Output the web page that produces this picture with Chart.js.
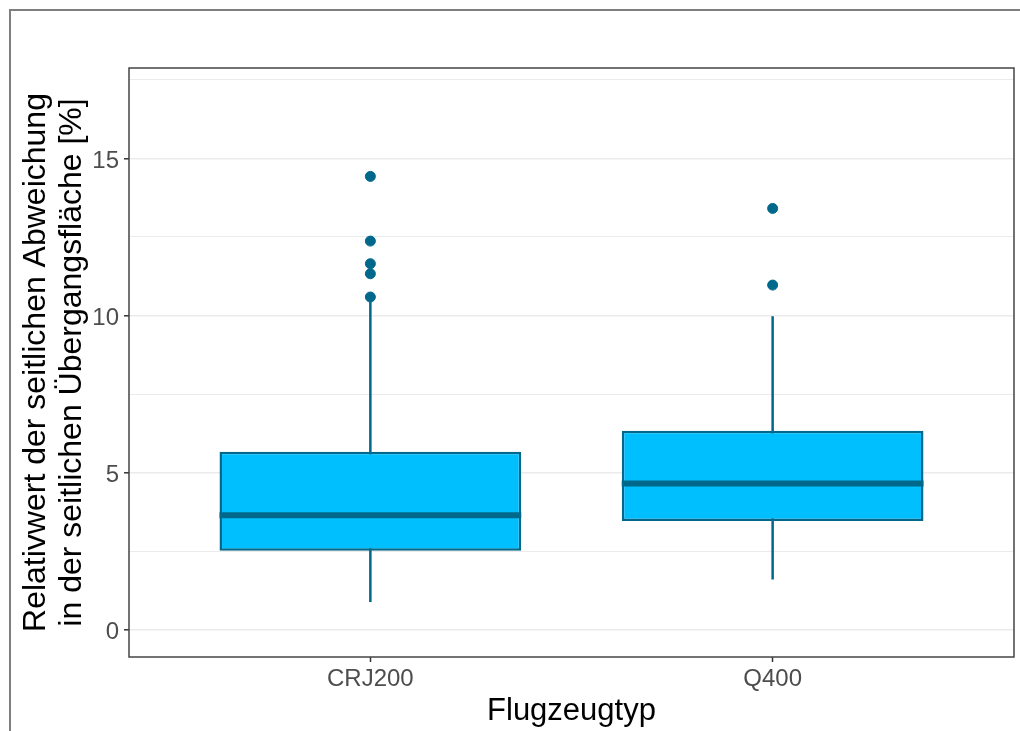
<!DOCTYPE html>
<html>
<head>
<meta charset="utf-8">
<script src="https://cdn.jsdelivr.net/npm/chart.js@4"></script>
<style>
  html, body { margin: 0; padding: 0; background: #fff; }
  #wrap { position: relative; width: 1020px; height: 731px; overflow: hidden; }
  #frame { position: absolute; left: 9px; top: 9px; width: 1030px; height: 760px; border: 2px solid #7f7f7f; pointer-events: none; }
</style>
</head>
<body>
<div id="wrap">
  <canvas id="chart" width="1020" height="731"></canvas>
  <div id="frame"></div>
</div>
<script>
const categories = ['CRJ200', 'Q400'];
const lowerWhisker = [0.88, 1.60];
const q1 = [2.51, 3.46];
const median = [3.64, 4.65];
const q3 = [5.66, 6.33];
const upperWhisker = [10.45, 9.98];
const outliers = [
  [10.59, 11.33, 11.65, 12.37, 14.43],
  [10.97, 13.41]
];
const yTicks = [0, 2.5, 5, 7.5, 10, 12.5, 15, 17.5];

const fillColor = '#00BFFF';
const darkColor = '#00688B';
const boxWidth = 0.75;

const boxData = categories.map((c, i) => ({ x: i + 1, y: [q1[i], q3[i]] }));

const whiskerData = [];
const medianData = [];
categories.forEach((c, i) => {
  whiskerData.push({ x: i + 1, y: lowerWhisker[i] }, { x: i + 1, y: upperWhisker[i] }, { x: i + 1, y: null });
  medianData.push({ x: i + 1 - boxWidth / 2, y: median[i] }, { x: i + 1 + boxWidth / 2, y: median[i] }, { x: i + 1, y: null });
});

const outlierData = [];
outliers.forEach((list, i) => list.forEach(v => outlierData.push({ x: i + 1, y: v })));

const panelBorder = {
  id: 'panelBorder',
  afterDraw(chart) {
    const { ctx, chartArea } = chart;
    ctx.save();
    ctx.strokeStyle = '#444444';
    ctx.lineWidth = 1.5;
    ctx.strokeRect(chartArea.left, chartArea.top, chartArea.right - chartArea.left, chartArea.bottom - chartArea.top);
    ctx.restore();
  }
};

const fontFamily = '"Liberation Sans", Arial, sans-serif';

new Chart(document.getElementById('chart'), {
  type: 'bar',
  data: {
    datasets: [
      {
        type: 'line',
        data: whiskerData,
        borderColor: darkColor,
        borderWidth: 2.5,
        pointRadius: 0,
        spanGaps: false,
        order: 4
      },
      {
        type: 'bar',
        data: boxData,
        backgroundColor: fillColor,
        borderColor: darkColor,
        borderWidth: 2.5,
        borderSkipped: false,
        barPercentage: boxWidth,
        categoryPercentage: 1,
        order: 3
      },
      {
        type: 'line',
        data: medianData,
        borderColor: darkColor,
        borderWidth: 6,
        pointRadius: 0,
        spanGaps: false,
        order: 2
      },
      {
        type: 'scatter',
        data: outlierData,
        backgroundColor: darkColor,
        borderColor: darkColor,
        borderWidth: 1,
        pointRadius: 5,
        order: 1
      }
    ]
  },
  options: {
    responsive: false,
    animation: false,
    devicePixelRatio: 1,
    layout: { padding: { top: 68, right: 5, left: 0, bottom: 0 } },
    plugins: {
      legend: { display: false },
      tooltip: { enabled: false }
    },
    scales: {
      x: {
        type: 'linear',
        min: 0.4,
        max: 2.6,
        offset: false,
        afterBuildTicks: scale => { scale.ticks = categories.map((c, i) => ({ value: i + 1 })); },
        afterFit: scale => { scale.height = 731 - 657; },
        ticks: {
          callback: v => categories[v - 1],
          color: '#4D4D4D',
          font: { family: fontFamily, size: 24 },
          padding: 3,
          maxRotation: 0,
          autoSkip: false
        },
        grid: {
          offset: false,
          drawOnChartArea: false,
          tickLength: 5,
          tickColor: '#333333',
          tickWidth: 1.5
        },
        border: { display: false },
        title: {
          display: true,
          text: 'Flugzeugtyp',
          color: '#000000',
          font: { family: fontFamily, size: 31, lineHeight: 1.25 },
          padding: { top: 0, bottom: 0 }
        }
      },
      y: {
        type: 'linear',
        min: -0.87,
        max: 17.88,
        afterBuildTicks: scale => { scale.ticks = yTicks.map(v => ({ value: v })); },
        afterFit: scale => { scale.width = 129; },
        ticks: {
          callback: v => (v % 5 === 0 ? String(v) : ''),
          color: '#4D4D4D',
          font: { family: fontFamily, size: 24 },
          padding: 5,
          labelOffset: 3
        },
        grid: {
          color: '#EBEBEB',
          lineWidth: ctx => (ctx.tick && ctx.tick.value % 5 === 0 ? 1.6 : 1.1),
          tickLength: 5,
          tickColor: ctx => (ctx.tick && ctx.tick.value % 5 === 0 ? '#333333' : 'rgba(0,0,0,0)'),
          tickWidth: 1.5
        },
        border: { display: false },
        title: {
          display: true,
          text: ['Relativwert der seitlichen Abweichung', 'in der seitlichen Übergangsfläche [%]'],
          color: '#000000',
          font: { family: fontFamily, size: 32, lineHeight: 1.1 },
          padding: { top: 19, bottom: 0 }
        }
      }
    }
  },
  plugins: [panelBorder]
});
</script>
</body>
</html>
